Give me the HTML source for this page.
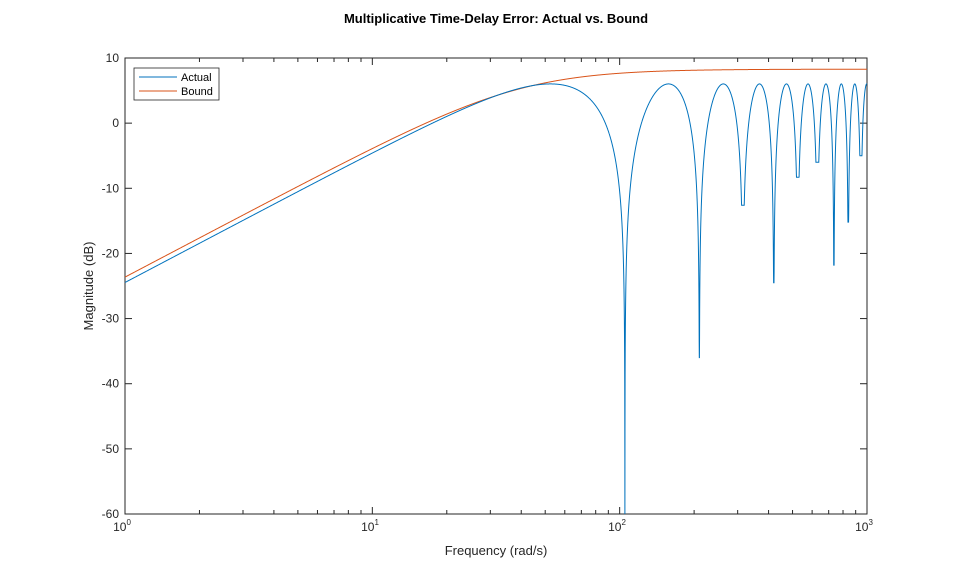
<!DOCTYPE html>
<html><head><meta charset="utf-8"><style>
body{margin:0;background:#fff;width:959px;height:577px;overflow:hidden}
svg text{font-family:"Liberation Sans",sans-serif}
</style></head><body>
<svg id="s" width="959" height="577" xmlns="http://www.w3.org/2000/svg">
<rect width="959" height="577" fill="#fff"/>
<rect x="125" y="58" width="742" height="456" fill="#fff" stroke="#262626" stroke-width="1"/>
<g id="ticks" stroke="#262626" stroke-width="1"></g>
<path id="bound" fill="none" stroke="#D95319" stroke-width="1"/>
<path id="act" fill="none" stroke="#0072BD" stroke-width="1"/>
<text x="496" y="23" font-size="13" font-weight="bold" text-anchor="middle" fill="#000">Multiplicative Time-Delay Error: Actual vs. Bound</text>
<text x="496" y="555" font-size="13" text-anchor="middle" fill="#262626">Frequency (rad/s)</text>
<text transform="translate(93,286) rotate(-90)" font-size="13" text-anchor="middle" fill="#262626">Magnitude (dB)</text>
<g font-size="12" fill="#262626" text-anchor="end" id="yl"></g>
<g font-size="12" fill="#262626" text-anchor="middle">
<text x="122" y="531">10<tspan font-size="8" dy="-6">0</tspan></text>
<text x="370" y="531">10<tspan font-size="8" dy="-6">1</tspan></text>
<text x="617" y="531">10<tspan font-size="8" dy="-6">2</tspan></text>
<text x="864" y="531">10<tspan font-size="8" dy="-6">3</tspan></text>
</g>
<rect x="134" y="68" width="85" height="32" fill="#fff" stroke="#262626" stroke-width="0.8"/>
<line x1="139" y1="77" x2="177" y2="77" stroke="#0072BD"/>
<line x1="139" y1="91" x2="177" y2="91" stroke="#D95319"/>
<text x="181" y="81" font-size="11" fill="#000">Actual</text>
<text x="181" y="95" font-size="11" fill="#000">Bound</text>
</svg>
<script>
var X0=125,DEC=247.33,Y0=58,PD=456/70;
function px(w){return X0+Math.log10(w)*DEC}
function py(d){return Y0+(10-d)*PD}
var t=document.getElementById('ticks'),h='';
for(var d=10;d>=-60;d-=10){var y=py(d);h+='<line x1="125" y1="'+y+'" x2="132" y2="'+y+'"/><line x1="867" y1="'+y+'" x2="860" y2="'+y+'"/>';}
for(var e=0;e<3;e++)for(var k=1;k<10;k++){var x=px(k*Math.pow(10,e));var L=k==1?7:4;
h+='<line x1="'+x+'" y1="514" x2="'+x+'" y2="'+(514-L)+'"/><line x1="'+x+'" y1="58" x2="'+x+'" y2="'+(58+L)+'"/>';}
t.innerHTML=h;
var yl='';for(var d=10;d>=-60;d-=10)yl+='<text x="119" y="'+(py(d)+4)+'">'+d+'</text>';
document.getElementById('yl').innerHTML=yl;
var tau=2*Math.PI/105;
var depths=[-60,-36,-12.6,-24.5,-8.3,-6,-21.8,-15.2,-5];
var ws=[];for(var i=0;i<=6000;i++)ws.push(Math.pow(10,3*i/6000));
for(var k=1;k<=9;k++)ws.push(105*k);
ws.sort(function(p,q){return p-q});
var a='',b='';
for(var i=0;i<ws.length;i++){var w=ws[i];
var v=2*Math.abs(Math.sin(w*tau/2));var db=20*Math.log10(Math.max(v,1e-9));
var k=Math.round(w*tau/(2*Math.PI));
if(k>=1&&k<=depths.length)db=Math.max(db,depths[k-1]);else db=Math.max(db,-60);
a+=(i?'L':'M')+px(w).toFixed(2)+','+py(db).toFixed(2);
var x=w*tau;var bv=1.1*x/Math.sqrt(1+Math.pow(x/2.36,2));
b+=(i?'L':'M')+px(w).toFixed(2)+','+py(20*Math.log10(bv)).toFixed(2);}
document.getElementById('act').setAttribute('d',a);
document.getElementById('bound').setAttribute('d',b);
</script>
</body></html>
